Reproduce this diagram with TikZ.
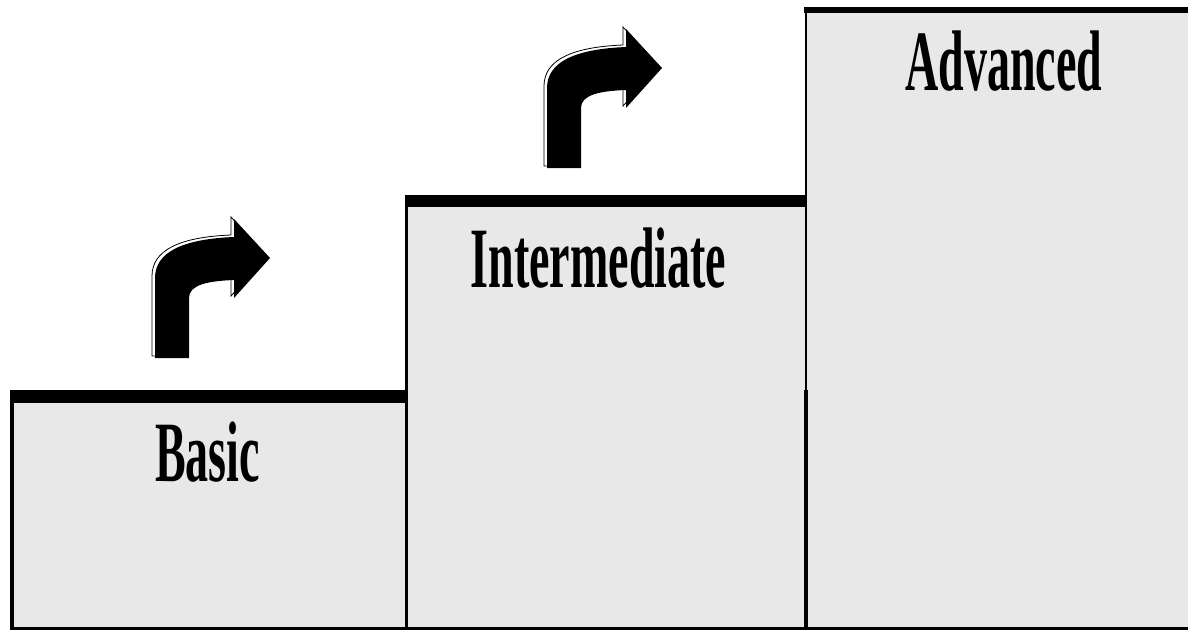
\documentclass[tikz,border=0pt]{standalone}
\usepackage{fontspec}
\setmainfont{Liberation Serif}
\definecolor{stepfill}{HTML}{E8E8E8}
\tikzset{
  stepbox/.style={fill=stepfill, draw=none, minimum width=#1, inner sep=0pt, outer sep=0pt},
  edge/.style={line width=3.5pt, line cap=butt},
  topbar/.style={line width=#1, line cap=butt},
  lbl/.style={anchor=base, inner sep=0pt, font=\fontsize{86}{90}\selectfont\bfseries},
  pics/turnarrow/.style={code={
    % offset outline behind the arrow
    \draw[fill=white, line width=0.8pt, shift={(-3,-2)}]
      (0,0) -- (0,-80) .. controls (0,-106) and (28,-119) .. (79,-121)
      -- (79,-139) -- (115,-100) -- (79,-60) -- (79,-78)
      .. controls (52,-77) and (34,-73) .. (34,-60) -- (34,0) -- cycle;
    % solid arrow
    \fill[black]
      (0,0) -- (0,-80) .. controls (0,-106) and (28,-119) .. (79,-121)
      -- (79,-139) -- (115,-100) -- (79,-60) -- (79,-78)
      .. controls (52,-77) and (34,-73) .. (34,-60) -- (34,0) -- cycle;
  }}
}
\begin{document}
\begin{tikzpicture}[x=1pt, y=-1pt]
\useasboundingbox (0,0) rectangle (1188,630);

% three step boxes
\fill[stepfill] (12,396) rectangle (406.5,628.5);
\fill[stepfill] (406.5,201) rectangle (806,628.5);
\fill[stepfill] (806,10) rectangle (1188,628.5);
\coordinate (b-nw) at (12,396);     \coordinate (b-ne) at (406.5,396);
\coordinate (b-sw) at (12,628.5);   \coordinate (b-se) at (406.5,628.5);
\coordinate (i-nw) at (406.5,201);  \coordinate (i-ne) at (806,201);
\coordinate (i-se) at (806,628.5);
\coordinate (a-nw) at (806,10);     \coordinate (a-ne) at (1188,10);
\coordinate (a-se) at (1188,628.5);

% borders
\draw[edge] (b-nw) -- (b-sw) -- (a-se);
\draw[edge] (i-nw) -- (b-se);
\draw[line width=2.5pt] (a-nw) -- (806,390);
\draw[line width=4pt] (806,390) -- (i-se);

% heavy top edges
\draw[topbar=13pt] (10,396.5) -- (408,396.5);
\draw[topbar=12pt] (405,201) -- (807,201);
\draw[topbar=6pt] (804,10) -- (1188,10);

% labels
\node[lbl] (basic) at (207.5,481) {\scalebox{0.535}[1]{Basic}};
\node[lbl] (inter) at (598.5,287) {\scalebox{0.535}[1]{Intermediate}};
\node[lbl] (adv) at (1004,90) {\scalebox{0.535}[1]{Advanced}};

% turn arrows
\pic (arrow1) at (155,358) {turnarrow};
\pic (arrow2) at (547,168) {turnarrow};
\end{tikzpicture}
\end{document}
